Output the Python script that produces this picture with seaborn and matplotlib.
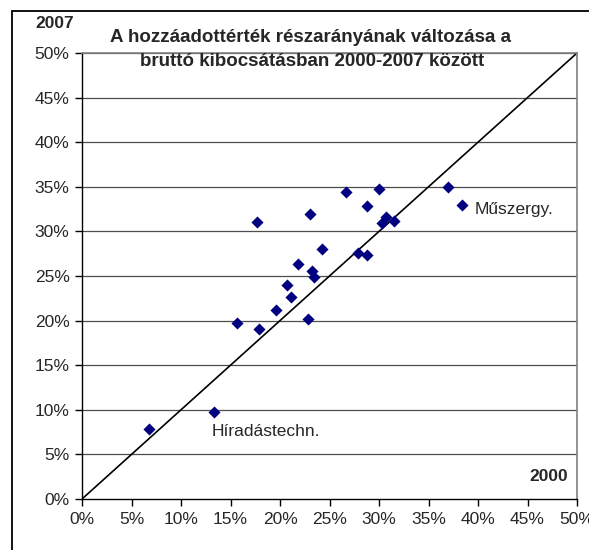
import seaborn as sns
import matplotlib.pyplot as plt
import pandas as pd
from matplotlib.ticker import PercentFormatter

# részarány 2000 (x) és 2007 (y), %
x_2000 = [15.7, 17.9, 17.7, 19.6, 21.1, 20.7, 21.8, 22.8, 23.2, 23.4, 23.0, 24.2,
          26.7, 30.0, 28.8, 27.9, 28.8, 30.7, 30.3, 31.5, 37.0, 38.4, 6.8, 13.3]
y_2007 = [19.7, 19.1, 31.0, 21.2, 22.7, 24.0, 26.3, 20.2, 25.6, 24.9, 32.0, 28.0,
          34.4, 34.8, 32.8, 27.6, 27.4, 31.6, 30.9, 31.2, 35.0, 33.0, 7.9, 9.8]
diag = [0, 50]
ticks = list(range(0, 55, 5))

df = pd.DataFrame({'x': x_2000, 'y': y_2007})

sns.set_style('white')
plt.rcParams['font.family'] = ['Liberation Sans', 'DejaVu Sans']

fig = plt.figure(figsize=(5.89, 5.5), dpi=100)
ax = fig.add_axes([82 / 589, 51 / 550, 495 / 589, 446 / 550])

for t in ticks[1:]:
    ax.axhline(t, color='#4d4d4d', lw=0.9, zorder=0)

ax.plot(diag, diag, color='black', lw=1.2, zorder=1)
sns.scatterplot(data=df, x='x', y='y', marker='D', color='#000080', s=38,
                linewidth=0, ax=ax, zorder=3)

ax.set_xlim(0, 50)
ax.set_ylim(0, 50)
ax.set_xticks(ticks)
ax.set_yticks(ticks)
ax.xaxis.set_major_formatter(PercentFormatter(decimals=0))
ax.yaxis.set_major_formatter(PercentFormatter(decimals=0))
ax.tick_params(axis='both', direction='out', length=5, width=1, color='black',
               labelsize=12.5, pad=4, left=True, bottom=True)
ax.set_xlabel('')
ax.set_ylabel('')

for side in ['left', 'bottom']:
    ax.spines[side].set_color('black')
    ax.spines[side].set_linewidth(1)
for side in ['top', 'right']:
    ax.spines[side].set_color('#808080')
    ax.spines[side].set_linewidth(1.2)

ax.text(39.7, 32.4, 'Műszergy.', fontsize=12.5, ha='left', va='center')
ax.text(13.1, 7.6, 'Híradástechn.', fontsize=12.5, ha='left', va='center')
ax.text(49.1, 2.5, '2000', fontsize=12.5, fontweight='bold', ha='right', va='center')

fig.text(310 / 589, 1 - 38 / 550, 'A hozzáadottérték részarányának változása a',
         fontsize=13.5, fontweight='bold', ha='center', va='center')
fig.text(312 / 589, 1 - 61 / 550, 'bruttó kibocsátásban 2000-2007 között',
         fontsize=13.5, fontweight='bold', ha='center', va='center')
fig.text(55 / 589, 1 - 24 / 550, '2007', fontsize=12.5, fontweight='bold',
         ha='center', va='center')

fig.add_artist(plt.Rectangle((12 / 589, -0.05), 1.0, 1 - 11 / 550 + 0.05,
                             transform=fig.transFigure, fill=False,
                             lw=1.3, ec='black'))

fig.savefig('out.png', dpi=100)
